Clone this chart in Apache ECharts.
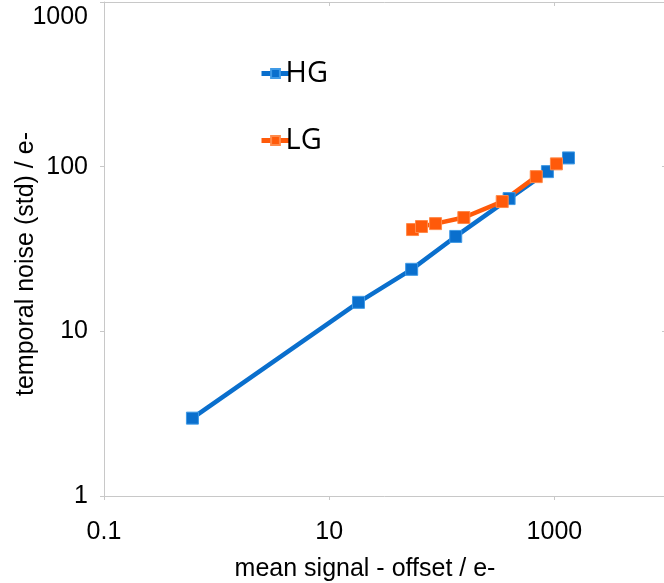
<!DOCTYPE html>
<html>
<head>
<meta charset="utf-8">
<script src="https://cdn.jsdelivr.net/npm/echarts@6/dist/echarts.min.js"></script>
<style>
html, body { margin: 0; padding: 0; background: #fff; }
#noise { width: 664px; height: 583px; }
</style>
</head>
<body>
<div id="noise"></div>
<script>
// 数据：mean signal - offset / e-  vs  temporal noise / e-
let hgSignal = [0.61, 18.2, 54, 133, 396, 867, 1334];
let hgNoise = [2.97, 15.0, 23.8, 37.7, 64, 93.3, 113];
let lgSignal = [55, 66, 88, 157, 344, 690, 1042];
let lgNoise = [41.5, 43.3, 45.1, 49.1, 61.4, 87, 104];
let xTicks = [0.1, 10, 1000];
let yTicks = [1, 10, 100, 1000];

function pairs(xs, ys){
    let out = [];
    for(let i = 0; i < xs.length; i++){
        out.push([xs[i], ys[i]]);
    }
    return out;
}

function renderNoiseChart(){
    let noiseDOM = document.getElementById("noise");
    let noiseChart = echarts.init(noiseDOM);
    let font = "Liberation Sans, Arial, sans-serif";
    let lineColor = "#c8c8c8";
    let noiseOpts = {
        animation: false,
        grid: {
            left: 104,
            right: -3,
            top: 2,
            bottom: 87,
            containLabel: false,
            outerBoundsMode: "none"
        },
        legend: {
            orient: "vertical",
            left: 254,
            top: 54,
            itemGap: 38,
            itemWidth: 28,
            itemHeight: 11,
            lineStyle: { width: 5 },
            textStyle: {
                fontFamily: "Open Sans",
                fontSize: 29,
                color: "#000",
                padding: [0, 0, 0, -9]
            },
            data: ["HG", "LG"]
        },
        xAxis: [{
            type: "log",
            min: 0.1,
            max: 10000,
            position: "bottom",
            name: "mean signal - offset / e-",
            nameLocation: "middle",
            nameGap: 61,
            nameMoveOverlap: false,
            nameTextStyle: {
                fontFamily: font,
                fontSize: 25,
                color: "#000",
                padding: [0, 41, 0, 0]
            },
            axisLine: { show: true, lineStyle: { color: lineColor, width: 1 } },
            axisTick: { show: true, length: 4, customValues: xTicks, lineStyle: { color: lineColor } },
            axisLabel: {
                customValues: xTicks,
                margin: 24,
                fontFamily: font,
                fontSize: 25,
                color: "#000",
                formatter: function(v){ return String(v); }
            },
            splitLine: { show: false }
        }, {
            type: "log",
            min: 0.1,
            max: 10000,
            position: "top",
            axisLine: { show: true, lineStyle: { color: lineColor, width: 1 } },
            axisTick: { show: true, inside: true, length: 4, customValues: xTicks, lineStyle: { color: lineColor } },
            axisLabel: { show: false },
            splitLine: { show: false }
        }],
        yAxis: [{
            type: "log",
            min: 1,
            max: 1000,
            position: "left",
            name: "temporal noise (std) / e-",
            nameLocation: "middle",
            nameGap: 65,
            nameMoveOverlap: false,
            nameTextStyle: {
                fontFamily: font,
                fontSize: 25,
                color: "#000",
                padding: [0, 30, 0, 0]
            },
            axisLine: { show: true, lineStyle: { color: lineColor, width: 1 } },
            axisTick: { show: true, length: 4, customValues: yTicks, lineStyle: { color: lineColor } },
            axisLabel: {
                customValues: yTicks,
                margin: 16,
                fontFamily: font,
                fontSize: 25,
                color: "#000",
                formatter: function(v){
                    if(v >= 1000){
                        return "{top|" + v + "}";
                    }
                    return String(v);
                },
                rich: {
                    top: {
                        fontFamily: font,
                        fontSize: 25,
                        color: "#000",
                        padding: [30, 0, 0, 0]
                    }
                }
            },
            splitLine: { show: false }
        }, {
            type: "log",
            min: 1,
            max: 1000,
            position: "right",
            axisLine: { show: true, lineStyle: { color: lineColor, width: 1 } },
            axisTick: { show: true, inside: true, length: 5, customValues: yTicks, lineStyle: { color: lineColor } },
            axisLabel: { show: false },
            splitLine: { show: false }
        }],
        series: [{
            name: "HG",
            type: "line",
            data: pairs(hgSignal, hgNoise),
            symbol: "rect",
            symbolSize: 12,
            color: "#0a6fcd",
            lineStyle: { width: 4.5, color: "#0a6fcd" },
            itemStyle: { color: "#0a6fcd", borderColor: "#3f9ae6", borderWidth: 1 }
        }, {
            name: "LG",
            type: "line",
            data: pairs(lgSignal, lgNoise),
            symbol: "rect",
            symbolSize: 12,
            color: "#ff5a0a",
            lineStyle: { width: 4.5, color: "#ff5a0a" },
            itemStyle: { color: "#ff5a0a", borderColor: "#ff8a4a", borderWidth: 1 }
        }]
    };
    noiseChart.setOption(noiseOpts);
}

renderNoiseChart();
</script>
</body>
</html>
